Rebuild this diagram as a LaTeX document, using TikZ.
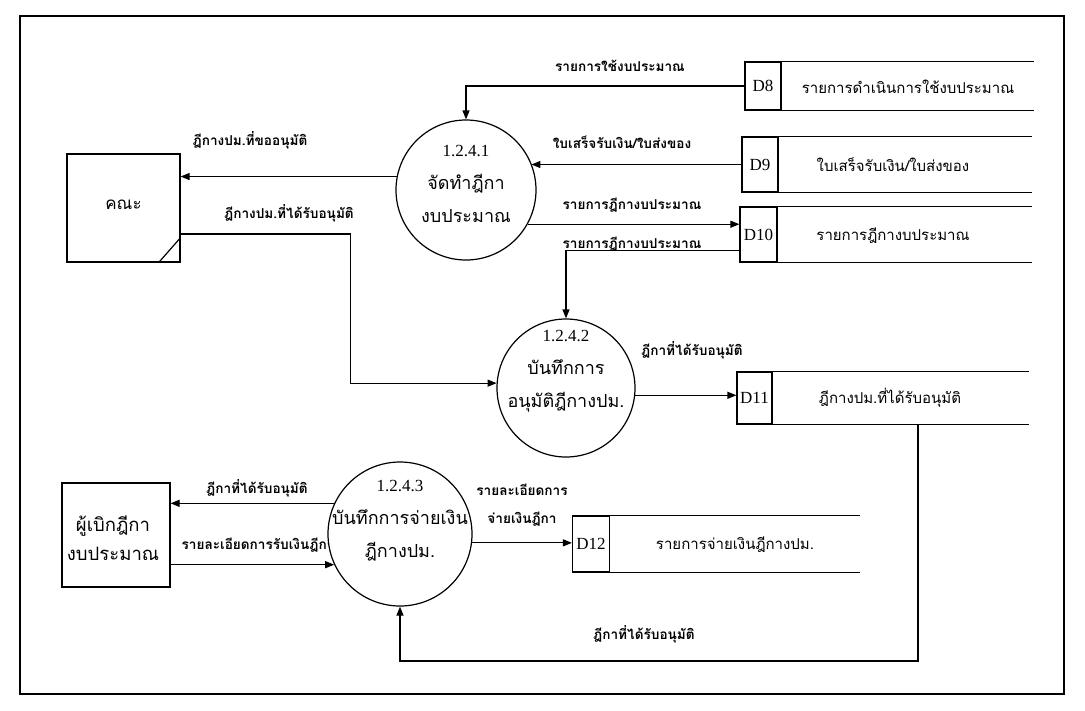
\documentclass[tikz,border=0pt]{standalone}
\usepackage{fontspec}
\setmainfont{Liberation Serif}
\newfontfamily\thai[Script=Thai]{Loma}
\usetikzlibrary{arrows.meta,calc}
\tikzset{
  flow/.style={draw, line width=1.2pt, -{Triangle[length=9pt,width=7pt]}},
  plain/.style={draw, line width=1.2pt},
  proc/.style={circle, draw, fill=white, line width=1.2pt, minimum size=140pt, inner sep=0pt},
  ptext/.style={align=center, inner sep=0pt, font=\thai\fontsize{18}{33}\selectfont},
  ent/.style={rectangle, draw, line width=1.2pt, inner sep=0pt},
  etext/.style={align=center, inner sep=0pt, font=\thai\fontsize{17}{30}\selectfont},
  sid/.style={rectangle, draw, line width=1.2pt, inner sep=0pt, font=\fontsize{17}{17}\selectfont},
  stext/.style={inner sep=0pt, font=\thai\fontsize{15}{16}\selectfont},
  lbl/.style={inner sep=1pt, font=\thai\bfseries\fontsize{13.6}{28}\selectfont, align=center}
}
\newcommand{\pnumber}[1]{{\rmfamily\fontsize{17}{33}\selectfont #1}}
\begin{document}
\begin{tikzpicture}[x=1pt,y=-1pt]
\useasboundingbox (0,0) rectangle (1085,710);
\fill[white] (0,0) rectangle (1085,710);
\draw[line width=2.6pt] (20,16) rectangle (1064,694);

% label partly hidden behind process 1.2.4.3
\node[lbl] (l10) at (258,545) {รายละเอียดการรับเงินฎีกา};

% processes
\node[proc] (p1) at (466,190) {};
\node[ptext] (p1t) at (466,184) {\pnumber{1.2.4.1}\\จัดทำฎีกา\\งบประมาณ};
\node[proc, minimum size=138pt] (p2) at (566,388) {};
\node[ptext] (p2t) at (566,371) {\pnumber{1.2.4.2}\\บันทึกการ\\อนุมัติฎีกางปม.};
\node[proc, minimum size=144pt] (p3) at (400,534) {};
\node[ptext] (p3t) at (400,521) {\pnumber{1.2.4.3}\\บันทึกการจ่ายเงิน\\ฎีกางปม.};

% external entities
\node[ent, minimum width=113pt, minimum height=108pt] (kana) at (123.5,208) {};
\node[etext] (kanat) at (123.5,205) {คณะ};
\draw[line width=1.2pt] ($(kana.south east)+(-22,0)$) -- ++(22,-25);
\node[ent, minimum width=108pt, minimum height=104pt] (pb) at (116,535) {};
\node[etext, font=\thai\fontsize{18.5}{29}\selectfont] (pbt) at (113,538) {ผู้เบิกฎีกา\\งบประมาณ};

% data stores
\node[sid, minimum width=36pt, minimum height=48pt] (d8) at (763,86) {D8};
\draw[plain] (d8.north west) -- ++(290,0);
\draw[plain] (d8.south west) -- ++(290,0);
\node[stext] (d8t) at (908,87) {รายการดำเนินการใช้งบประมาณ};

\node[sid, minimum width=36pt, minimum height=55pt] (d9) at (760,164.5) {D9};
\draw[plain] (d9.north west) -- ++(291,0);
\draw[plain] (d9.south west) -- ++(291,0);
\node[stext] (d9t) at (893,165) {ใบเสร็จรับเงิน/ใบส่งของ};

\node[sid, minimum width=37pt, minimum height=55pt] (d10) at (758.5,234.5) {D10};
\draw[plain] (d10.north west) -- ++(293,0);
\draw[plain] (d10.south west) -- ++(293,0);
\node[stext] (d10t) at (893,236) {รายการฎีกางบประมาณ};

\node[sid, minimum width=35pt, minimum height=52pt] (d11) at (754.5,398) {D11};
\draw[plain] (d11.north west) -- ++(293,0);
\draw[plain] (d11.south west) -- ++(293,0);
\node[stext] (d11t) at (890,398) {ฎีกางปม.ที่ได้รับอนุมัติ};

\node[sid, minimum width=37pt, minimum height=56pt] (d12) at (591,544) {D12};
\draw[plain] (d12.north west) -- ++(288,0);
\draw[plain] (d12.south west) -- ++(288,0);
\node[stext] (d12t) at (735,545) {รายการจ่ายเงินฎีกางปม.};

% flows
\draw[flow] (d8.west) -| (p1.north);
\node[lbl] (l1) at (620,66) {รายการใช้งบประมาณ};

\draw[flow] (d9.west) -- (d9.west -| p1.22);
\node[lbl] (l2) at (622,142) {ใบเสร็จรับเงิน/ใบส่งของ};

\draw[flow] (p1.-29) -- (p1.-29 -| d10.west);
\node[lbl] (l3) at (632,205) {รายการฎีกางบประมาณ};

\draw[flow] ([yshift=-16pt]d10.west) -| (p2.north);
\node[lbl] (l4) at (632,244) {รายการฎีกางบประมาณ};

\draw[flow] (p1.169) -- (p1.169 -| kana.east);
\node[lbl] (l5) at (250,140) {ฎีกางปม.ที่ขออนุมัติ};

\draw[flow] ([yshift=-26pt]kana.east) -- ++(170,0) |- (p2.176);
\node[lbl] (l6) at (289,213) {ฎีกางปม.ที่ได้รับอนุมัติ};

\draw[flow] (p2.-6) -- (p2.-6 -| d11.west);
\node[lbl] (l7) at (692,350) {ฎีกาที่ได้รับอนุมัติ};

\coordinate (d11out) at (918,424);
\draw[flow] (d11out) -- ++(0,237) -| (p3.south);
\node[lbl] (l8) at (644,634) {ฎีกาที่ได้รับอนุมัติ};

\draw[flow] (p3.155) -- (p3.155 -| pb.east);
\node[lbl] (l9) at (257,488) {ฎีกาที่ได้รับอนุมัติ};

\draw[flow] (p3.205 -| pb.east) -- (p3.205);

\draw[flow] (p3.-7) -- (p3.-7 -| d12.west);
\node[lbl] (l11) at (522,505) {รายละเอียดการ\\จ่ายเงินฎีกา};
\end{tikzpicture}
\end{document}
